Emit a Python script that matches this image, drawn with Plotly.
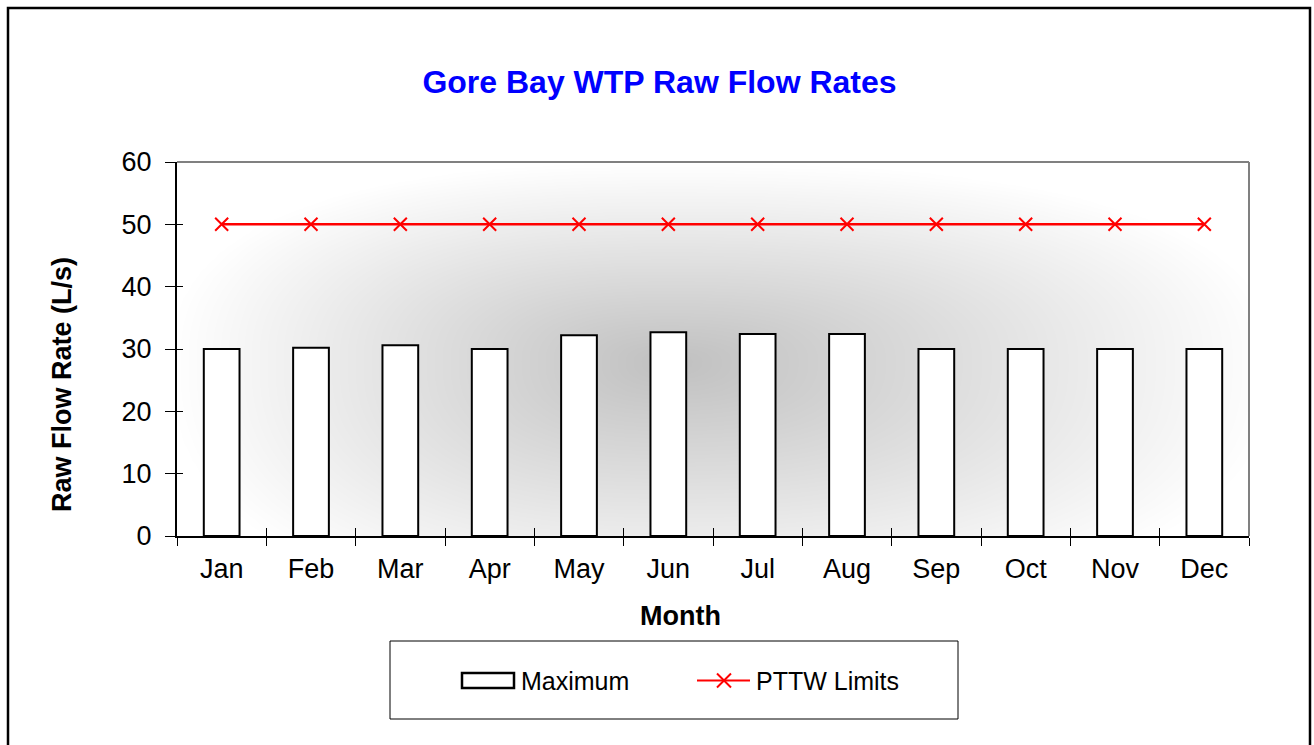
import numpy as np
import plotly.graph_objects as go

months = ["Jan", "Feb", "Mar", "Apr", "May", "Jun", "Jul", "Aug", "Sep", "Oct", "Nov", "Dec"]
maximum = [30.0, 30.2, 30.6, 30.0, 32.2, 32.7, 32.4, 32.4, 30.0, 30.0, 30.0, 30.0]
pttw_limits = [50, 50, 50, 50, 50, 50, 50, 50, 50, 50, 50, 50]
y_ticks = [0, 10, 20, 30, 40, 50, 60]

FONT = "Arial, Liberation Sans, sans-serif"

# background gradient (styling only)
gx = np.linspace(-0.5, 11.5, 121)
gy = np.linspace(0, 60, 91)
X, Y = np.meshgrid(gx, gy)
cx, cy = 5.0, 28.0
dx = np.where(X < cx, (cx - X) / 5.6, (X - cx) / 6.8)
dy = np.where(Y < cy, (cy - Y) / 40.0, (Y - cy) / 32.0)
p = 2.5
d = (dx ** p + dy ** p) ** (1 / p)
g = 192 + 63 * np.clip(d, 0, 1)

# plot-area geometry in px (for placing annotations / legend box)
L, T, W, H = 177, 162, 1072, 374


def px(x):
    return (x - L) / W


def py(y):
    return (T + H - y) / H


fig = go.Figure()
fig.add_trace(go.Heatmap(
    x=gx, y=gy, z=g, zmin=192, zmax=255, zsmooth="best",
    colorscale=[[0, "rgb(192,192,192)"], [1, "rgb(255,255,255)"]],
    showscale=False, hoverinfo="skip", showlegend=False,
    xaxis="x", yaxis="y",
))
fig.add_trace(go.Bar(
    x=months, y=maximum, name="Maximum",
    marker=dict(color="white", line=dict(color="black", width=2)),
    xaxis="x2", yaxis="y2", showlegend=False,
))
fig.add_trace(go.Scatter(
    x=months, y=pttw_limits, name="PTTW Limits", mode="lines+markers",
    line=dict(color="#ff0000", width=2.5),
    marker=dict(symbol="x-thin", size=13, color="#ff0000",
                line=dict(color="#ff0000", width=2)),
    xaxis="x2", yaxis="y2", showlegend=False,
))

legend_y = 680.5
shapes = [
    dict(type="line", xref="paper", yref="paper", x0=0, x1=1, y0=1, y1=1,
         line=dict(color="#808080", width=2)),
    dict(type="line", xref="paper", yref="paper", x0=1, x1=1, y0=0, y1=1,
         line=dict(color="#808080", width=2)),
    # legend box
    dict(type="rect", xref="paper", yref="paper",
         x0=px(390), x1=px(958), y0=py(719), y1=py(641),
         line=dict(color="black", width=1), fillcolor="white"),
    # legend symbol: bar
    dict(type="rect", xref="paper", yref="paper",
         x0=px(462), x1=px(514), y0=py(688), y1=py(673),
         line=dict(color="black", width=2.5), fillcolor="white"),
    # legend symbol: line with x marker
    dict(type="line", xref="paper", yref="paper", x0=px(697), x1=px(750),
         y0=py(legend_y), y1=py(legend_y), line=dict(color="#ff0000", width=2)),
    dict(type="line", xref="paper", yref="paper", x0=px(717), x1=px(731),
         y0=py(legend_y - 7), y1=py(legend_y + 7), line=dict(color="#ff0000", width=2)),
    dict(type="line", xref="paper", yref="paper", x0=px(717), x1=px(731),
         y0=py(legend_y + 7), y1=py(legend_y - 7), line=dict(color="#ff0000", width=2)),
    # outer chart border
    dict(type="rect", xref="paper", yref="paper",
         x0=px(8), x1=px(1310), y0=py(770), y1=py(8),
         line=dict(color="black", width=2.5), fillcolor="rgba(0,0,0,0)"),
]

fig.update_layout(
    width=1314, height=745,
    margin=dict(l=L, r=1314 - L - W, t=T, b=745 - T - H),
    paper_bgcolor="white", plot_bgcolor="white",
    font=dict(family=FONT, size=26, color="black"),
    bargap=0.6,
    showlegend=False,
    title=dict(text="<b>Gore Bay WTP Raw Flow Rates</b>", font=dict(size=32, color="#0000ff", family=FONT),
               xref="container", x=659.5 / 1314, xanchor="center",
               yref="container", y=1 - 82 / 745, yanchor="middle"),
    xaxis=dict(range=[-0.5, 11.5], tickvals=[i - 0.5 for i in range(13)], ticks="inside",
               ticklen=8, tickcolor="black", tickwidth=1, showticklabels=False,
               showgrid=False, zeroline=False, showline=False, fixedrange=True),
    yaxis=dict(range=[0, 60], tickvals=y_ticks, ticks="inside", ticklen=6,
               tickcolor="black", tickwidth=1, showticklabels=False,
               showgrid=False, zeroline=False, showline=False, fixedrange=True),
    xaxis2=dict(overlaying="x", anchor="y2", type="category", tickson="boundaries",
                range=[-0.5, 11.5],
                ticks="outside", ticklen=8, tickcolor="black", tickwidth=1,
                showline=True, linecolor="black", linewidth=2, showgrid=False,
                ticklabelstandoff=8, tickfont=dict(size=27)),
    yaxis2=dict(overlaying="y", anchor="x2", range=[0, 60], tickvals=y_ticks,
                ticks="outside", ticklen=10, tickcolor="black", tickwidth=1,
                showline=True, linecolor="black", linewidth=2, showgrid=False,
                zeroline=False, ticklabelstandoff=8, tickfont=dict(size=27)),
    annotations=[
        dict(text="<b>Month</b>", xref="paper", yref="paper", x=px(680),
             y=py(616), xanchor="center", yanchor="middle", showarrow=False,
             font=dict(size=27)),
        dict(text="<b>Raw Flow Rate (L/s)</b>", xref="paper", yref="paper",
             x=px(62), y=py(385), xanchor="center", yanchor="middle",
             textangle=-90, showarrow=False, font=dict(size=27)),
        dict(text="Maximum", xref="paper", yref="paper", x=px(519), y=py(legend_y),
             xanchor="left", yanchor="middle", showarrow=False, font=dict(size=25)),
        dict(text="PTTW Limits", xref="paper", yref="paper", x=px(754), y=py(legend_y),
             xanchor="left", yanchor="middle", showarrow=False, font=dict(size=25)),
    ],
    shapes=shapes,
)

fig.write_html("out.html", post_script="document.body.style.margin='0';",
               config={"displayModeBar": False})
